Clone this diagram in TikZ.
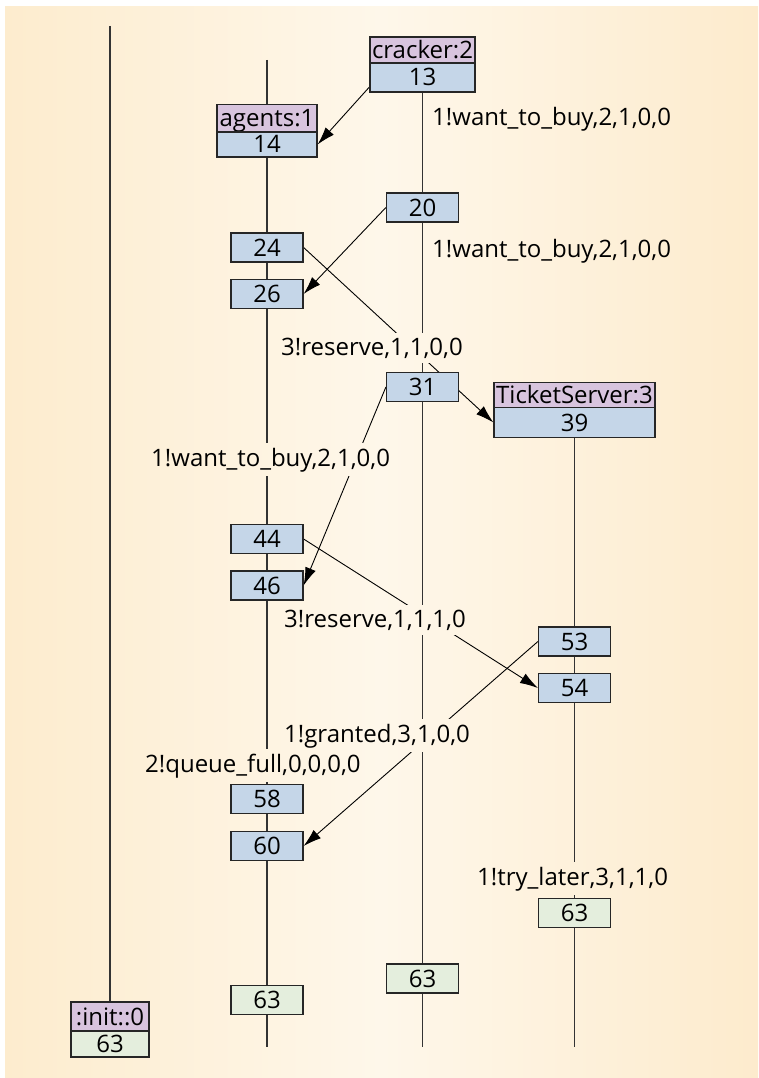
\documentclass[tikz,border=0pt]{standalone}
\usepackage{fontspec}
\setmainfont{Open Sans}
\usetikzlibrary{arrows.meta}
\definecolor{bgL}{RGB}{253,236,206}
\definecolor{bgM}{RGB}{254,247,234}
\definecolor{bgR}{RGB}{253,235,205}
\definecolor{hdr}{RGB}{216,196,222}
\definecolor{num}{RGB}{197,214,232}
\definecolor{fin}{RGB}{228,238,221}
\pgfdeclarelayer{bglayer}
\pgfdeclarelayer{linelayer}
\pgfdeclarelayer{coverlayer}
\pgfsetlayers{bglayer,linelayer,coverlayer,main}
\tikzset{
  every node/.style={font=\fontsize{24}{28}\selectfont},
  bgshade/.style={left color=bgL, right color=bgR, middle color=bgM},
  lifeline/.style={draw=black!80, line width=1.2pt},
  box/.style={draw=black!85, line width=1.2pt, rectangle, inner sep=0pt,
    text height=17pt, text depth=0pt},
  numbox/.style={box, fill=num, minimum width=72pt, minimum height=29pt},
  endbox/.style={box, fill=fin, minimum width=72pt, minimum height=29pt},
  hdrbox/.style={box, fill=hdr},
  msg/.style={draw=black, line width=0.9pt, -{Latex[length=18pt,width=11pt]}},
  lab/.style={anchor=base west, inner xsep=1pt, inner ysep=4pt}
}
\begin{document}
\begin{tikzpicture}[x=1pt,y=-1pt]
\useasboundingbox (0,0) rectangle (758,1078);
\begin{pgfonlayer}{bglayer}
  \fill[white] (0,0) rectangle (758,1078);
  \shade[bgshade] (5,7) rectangle (758,1078);
\end{pgfonlayer}

% lifeline end points
\coordinate (inTop) at (110,26);
\coordinate (agTop) at (267,60);
\coordinate (agBot) at (267,1047);
\coordinate (crBot) at (422.5,1047);
\coordinate (tsBot) at (574.5,1047);

% cracker
\node[hdrbox, minimum width=105pt, minimum height=26pt] (crH) at (422.5,50) {cracker:2};
\node[numbox, minimum width=105pt, minimum height=29pt] (c13) at (422.5,77.5) {13};
% agents
\node[hdrbox, minimum width=100pt, minimum height=27pt] (agH) at (267,118) {agents:1};
\node[numbox, minimum width=100pt, minimum height=25pt] (a14) at (267,144.5) {14};
% ticket server
\node[hdrbox, minimum width=161pt, minimum height=25pt] (tsH) at (574.5,395) {TicketServer:3};
\node[numbox, minimum width=161pt, minimum height=30pt] (t39) at (574.5,422.5) {39};
% init
\node[hdrbox, minimum width=78pt, minimum height=29pt] (inH) at (110,1016.5) {:init::0};
\node[endbox, minimum width=78pt, minimum height=26pt] (in63) at (110,1044) {63};

% event boxes
\node[numbox] (n20) at (422.5,207.5) {20};
\node[numbox] (n24) at (267,247.5) {24};
\node[numbox] (n26) at (267,294) {26};
\node[numbox] (n31) at (422.5,387) {31};
\node[numbox] (n44) at (267,539) {44};
\node[numbox] (n46) at (267,585.5) {46};
\node[numbox] (n53) at (574.5,641.5) {53};
\node[numbox] (n54) at (574.5,688) {54};
\node[numbox] (n58) at (267,799) {58};
\node[numbox] (n60) at (267,846) {60};
\node[endbox] (ts63) at (574.5,913) {63};
\node[endbox] (cr63) at (422.5,978.5) {63};
\node[endbox] (ag63) at (267,1000) {63};

% labels
\node[lab] (l1) at (431,126) {1!want\_to\_buy,2,1,0,0};
\node[lab] (l2) at (431,257) {1!want\_to\_buy,2,1,0,0};
\node[lab] (l3) at (280,355) {3!reserve,1,1,0,0};
\node[lab] (l4) at (150,466) {1!want\_to\_buy,2,1,0,0};
\node[lab] (l5) at (283,627) {3!reserve,1,1,1,0};
\node[lab] (l6) at (283,742) {1!granted,3,1,0,0};
\node[lab] (l7) at (144,772) {2!queue\_full,0,0,0,0};
\node[lab] (l8) at (476,885) {1!try\_later,3,1,1,0};

\begin{pgfonlayer}{linelayer}
  \draw[lifeline] (inTop) -- (inH.north);
  \draw[lifeline] (agTop) -- (agBot);
  \draw[lifeline] (c13.south) -- (crBot);
  \draw[lifeline] (t39.south) -- (tsBot);
  \draw[msg] ([yshift=-9.5pt]c13.west) -- (a14.east);
  \draw[msg] (n20.west) -- (n26.east);
  \draw[msg] (n24.east) -- (t39.west);
  \draw[msg] (n31.west) -- (n46.east);
  \draw[msg] (n44.east) -- (n54.west);
  \draw[msg] (n53.west) -- (n60.east);
\end{pgfonlayer}

\begin{pgfonlayer}{coverlayer}
  \foreach \lname in {l1,l2,l3,l4,l5,l6,l7,l8}{
    \begin{scope}
      \clip (\lname.south west) rectangle (\lname.north east);
      \shade[bgshade] (5,7) rectangle (758,1078);
    \end{scope}
  }
\end{pgfonlayer}
\end{tikzpicture}
\end{document}
